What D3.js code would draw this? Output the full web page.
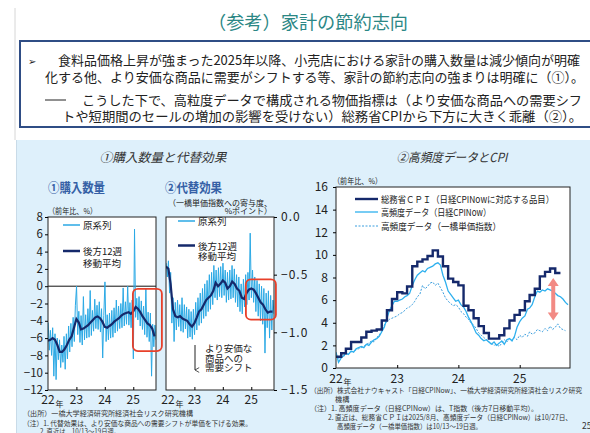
<!DOCTYPE html>
<html><head><meta charset="utf-8">
<script src="https://cdn.jsdelivr.net/npm/d3@7"></script>
<style>
body{margin:0;background:#fff;}
svg{display:block;}
text{font-family:"Noto Sans CJK JP","Noto Sans",sans-serif;}
</style>
</head><body>
<svg id="c" width="590" height="433"></svg>
<script>
// ---------------- DATA ----------------
const yearTicks = [2022, 2023, 2024, 2025];
const yearLabels = ["22", "23", "24", "25"];

// ① 購入数量（前年比、%）: raw series, roughly every two weeks from 2022-01-03
const qtyRaw = [-4.2,-7.4,-5.1,-8.0,-4.8,-10.4,-5.5,-10.8,-6.0,-8.5,-6.2,-9.4,-6.8,-8.8,-5.8,-9.6,-5.5,-8.4,-4.6,-7.6,
  -4.3,-7.0,-3.6,-6.4,-2.2,0.0,-5.6,-2.9,-6.5,-3.4,-6.8,-1.2,-6.2,-3.3,-6.0,-2.6,-5.9,-0.5,-5.7,-2.8,
  -5.2,-1.5,-4.9,-2.2,-5.0,-1.8,-5.3,-2.6,-8.3,-3.4,0.5,-6.4,-3.3,-6.2,-3.1,-6.0,-2.8,-5.9,-2.5,-5.4,
  -1.6,-5.2,-2.3,-4.9,-2.0,-4.8,-0.2,-4.6,-1.8,-4.4,0.0,-4.5,-1.9,-4.8,-1.6,-8.4,6.6,-3.6,-1.4,-3.9,
  -1.2,-4.6,-1.7,-5.0,-2.3,-5.6,-0.3,-5.9,-3.0,-6.4,-3.1,-10.4,-4.4,-7.0,-4.5,-6.2];
// ① 後方12週移動平均 (monthly readings, Jan-2022 .. Oct-2025)
const qtyMA = [-6.3,-6.2,-6.0,-6.2,-6.8,-7.6,-7.6,-7.3,-6.8,-6.2,-5.8,-4.8,
  -3.8,-4.2,-5.0,-4.9,-4.7,-4.5,-4.2,-3.9,-3.6,-3.5,-3.7,-4.1,
  -4.7,-4.8,-4.6,-4.4,-4.1,-3.9,-3.7,-3.4,-3.2,-3.1,-3.0,-3.2,
  -2.9,-2.4,-2.6,-3.0,-3.5,-3.9,-4.3,-4.5,-4.9,-5.8];

// ② 代替効果（一橋単価指数への寄与度、%ポイント）
const subRaw = [-0.40,-0.52,-0.38,-0.66,-0.48,-0.92,-0.70,-1.08,-0.74,-0.98,-0.72,-0.95,-0.76,-0.99,-0.70,-1.00,-0.76,-0.97,-0.78,-1.05,
  -0.80,-1.04,-0.82,-1.06,-0.80,-1.02,-0.74,-0.98,-0.70,-0.94,-0.66,-0.92,-0.62,-0.88,-0.58,-0.86,-0.55,-0.82,-0.50,-0.80,
  -0.48,-0.76,-0.42,-0.70,-0.46,-0.72,-0.44,-0.69,-0.43,-0.70,-0.40,-0.68,-0.46,-0.74,-0.48,-0.72,-0.46,-0.71,-0.42,-0.70,
  -0.45,-0.74,-0.50,-0.78,-0.52,-0.82,-0.58,-0.84,-0.54,-0.78,-0.50,-0.76,-0.48,-0.72,-0.14,-0.70,-0.46,-0.74,-0.52,-0.82,
  -0.55,-0.86,-0.58,-0.90,-0.60,-0.93,-0.62,-1.18,-0.66,-0.96,-0.64,-1.05,-0.68,-0.98,-0.72,-0.84];
const subMA = [-0.43,-0.45,-0.58,-0.80,-0.86,-0.87,-0.86,-0.88,-0.89,-0.90,-0.93,-0.95,
  -0.92,-0.87,-0.82,-0.80,-0.76,-0.72,-0.70,-0.68,-0.64,-0.57,-0.60,-0.58,
  -0.55,-0.57,-0.62,-0.60,-0.56,-0.58,-0.62,-0.64,-0.70,-0.71,-0.66,-0.63,
  -0.62,-0.63,-0.66,-0.70,-0.74,-0.76,-0.80,-0.83,-0.82,-0.82];

// ③ 高頻度データとCPI（前年比、%）
// 総務省CPI（日経CPINowに対応する品目）monthly, Jan-2022 .. Aug-2025
const cpiMonthly = [1.0,1.3,1.7,2.3,2.3,2.7,3.2,3.3,3.4,4.2,5.1,6.1,
  6.7,6.6,7.2,9.0,9.4,9.6,9.9,10.4,9.85,9.0,7.9,7.6,
  7.3,5.5,5.1,4.4,3.7,3.1,2.6,2.6,2.9,3.5,4.2,4.7,
  5.1,5.9,6.45,7.0,8.1,8.5,8.8,8.4];
// 高頻度データ（日経CPINow）, 1st & 16th of each month
const nowcast = [1.4,0.5,0.9,1.1,1.3,1.2,1.5,1.4,1.7,1.8,1.9,1.8,2.1,2.0,2.3,2.5,2.6,2.8,3.2,3.6,4.4,5.1,5.5,5.9,
  5.9,6.0,6.1,6.3,6.4,6.6,7.3,7.8,8.2,8.4,8.6,8.5,8.8,8.9,9.0,9.2,9.3,9.1,8.2,7.6,6.8,6.5,6.2,5.9,
  6.0,5.6,5.4,5.0,4.5,4.1,3.6,3.1,2.9,2.6,2.4,2.5,2.3,2.1,2.3,2.0,2.2,2.4,2.1,2.5,2.6,2.4,2.8,3.6,
  4.1,4.4,4.6,5.2,5.3,5.6,6.3,6.8,6.7,6.9,6.8,7.0,6.9,6.8,6.6,6.4,6.3,6.1,5.8,5.6];
// 高頻度データ（一橋単価指数）
const hitotsubashi = [1.0,0.8,1.1,1.0,1.3,1.2,1.4,1.5,1.6,1.7,1.8,1.9,2.1,2.2,2.4,2.3,2.7,2.9,3.3,3.8,4.1,4.3,4.4,4.5,
  4.6,4.8,4.9,5.1,5.3,5.4,5.6,5.9,6.3,6.5,7.3,7.0,7.2,7.5,7.6,7.3,7.5,7.1,6.7,6.2,5.9,5.7,5.5,5.6,
  5.4,5.0,4.8,4.5,4.3,4.0,3.8,3.5,3.1,2.9,2.7,2.5,2.3,2.2,2.0,2.1,1.9,2.2,2.5,2.3,2.6,2.4,2.7,2.5,
  2.9,2.7,3.0,2.8,3.2,3.0,3.1,3.4,3.3,3.2,3.5,3.3,3.7,3.4,3.6,3.9,3.5,3.4,3.3];

// ---------------- HELPERS ----------------
const rawDate = i => d3.timeDay.offset(new Date(2022,0,3), Math.round(i*14.6));
const monthDate = k => new Date(2022, k, 1);
const halfDate = j => new Date(2022, Math.floor(j/2), j%2 ? 16 : 1);

const svg = d3.select("#c");
function T(x, y, s, o = {}) {
  const t = svg.append("text").attr("x", x).attr("y", y).text(s)
    .attr("font-size", o.fs || 10).attr("fill", o.fill || "#222");
  if (o.anchor) t.attr("text-anchor", o.anchor);
  if (o.len) t.attr("textLength", o.len).attr("lengthAdjust", "spacingAndGlyphs");
  if (o.weight) t.attr("font-weight", o.weight);
  if (o.style) t.attr("font-style", o.style);
  if (o.ls) t.attr("letter-spacing", o.ls);
  return t;
}
// multi-line text as one element
function ML(x, y, lines, dy, o = {}) {
  const t = svg.append("text").attr("x", x).attr("y", y)
    .attr("font-size", o.fs || 10).attr("fill", o.fill || "#222");
  lines.forEach((s, i) => t.append("tspan").attr("x", x).attr("dy", i ? dy : 0).text(s));
  return t;
}

// ---------------- BACKGROUND / HEADER ----------------
svg.append("rect").attr("width",590).attr("height",433).attr("fill","#fff");
svg.append("line").attr("x1",15).attr("x2",15).attr("y1",8).attr("y2",140).attr("stroke","#d6d6d6");
svg.append("rect").attr("x",16).attr("y",140).attr("width",574).attr("height",293).attr("fill","#def0fb");
svg.append("line").attr("x1",16.5).attr("x2",16.5).attr("y1",140).attr("y2",433).attr("stroke","#c9dbe8");

T(308, 29, "（参考）家計の節約志向", {fs:18, fill:"#2b8785", anchor:"middle", len:200});
svg.append("rect").attr("x",20).attr("y",41).attr("width",580).attr("height",86)
  .attr("fill","#fff").attr("stroke","#2f4d85").attr("stroke-width",2);
T(28, 65, "➢", {fs:10, fill:"#222"});
T(58, 65, "食料品価格上昇が強まった2025年以降、小売店における家計の購入数量は減少傾向が明確", {fs:13, len:522});
T(45, 82, "化する他、より安価な商品に需要がシフトする等、家計の節約志向の強まりは明確に（①）。", {fs:13, len:539});
svg.append("line").attr("x1",45).attr("x2",66).attr("y1",100).attr("y2",100).attr("stroke","#222").attr("stroke-width",1);
T(82, 105, "こうした下で、高粒度データで構成される物価指標は（より安価な商品への需要シフ", {fs:13, len:500});
T(62, 121, "トや短期間のセールの増加の影響を受けない）総務省CPIから下方に大きく乖離（②）。", {fs:13, len:520});

// section titles
T(163, 162, "①購入数量と代替効果", {fs:12.5, anchor:"middle", style:"italic", fill:"#333", len:127});
T(452, 162, "②高頻度データとCPI", {fs:12.5, anchor:"middle", style:"italic", fill:"#333", len:111});
T(48, 192, "①購入数量", {fs:13, weight:"bold", fill:"#3560a6", len:57});
T(165, 192, "②代替効果", {fs:13, weight:"bold", fill:"#3560a6", len:57});
T(48, 214, "（前年比、%）", {fs:8, len:49});
ML(272, 206, ["（一橋単価指数への寄与度、", "%ポイント）"], 8, {fs:8}).attr("text-anchor","end");

// ---------------- PANEL ①: 購入数量 ----------------
const xDomL = [new Date(2022,0,1), new Date(2025,9,20)];
const xL = d3.scaleTime().domain(xDomL).range([48,156]);
const yL = d3.scaleLinear().domain([-12,8]).range([390,217]);
svg.append("rect").attr("x",48).attr("y",217).attr("width",108).attr("height",173).attr("fill","#fff");
svg.append("clipPath").attr("id","clipL").append("rect").attr("x",48).attr("y",217).attr("width",108).attr("height",173);
const gL = svg.append("g").attr("clip-path","url(#clipL)");
gL.append("line").attr("x1",48).attr("x2",156).attr("y1",yL(0)).attr("y2",yL(0)).attr("stroke","#111").attr("stroke-width",1);
gL.append("path").datum(qtyRaw).attr("fill","none").attr("stroke","#2ba9e5").attr("stroke-width",1)
  .attr("d", d3.line().x((d,i)=>xL(rawDate(i))).y(d=>yL(d)));
gL.append("path").datum(qtyMA).attr("fill","none").attr("stroke","#15296b").attr("stroke-width",2.2)
  .attr("d", d3.line().x((d,i)=>xL(monthDate(i))).y(d=>yL(d)));
svg.append("rect").attr("x",48).attr("y",217).attr("width",108).attr("height",173).attr("fill","none").attr("stroke","#222").attr("stroke-width",1);
const axL = svg.append("g").attr("transform","translate(48,0)")
  .call(d3.axisLeft(yL).tickValues(d3.range(-12,9,2)).tickSize(3).tickPadding(2).tickFormat(d3.format("d")));
axL.select(".domain").remove();
axL.selectAll("text").attr("font-size",11.5).attr("fill","#222").attr("font-family","'Liberation Sans',sans-serif");
const bxL = svg.append("g").attr("transform","translate(0,390)")
  .call(d3.axisBottom(xL).tickValues(yearTicks.slice(1).map(y=>new Date(y,0,1))).tickSizeInner(-3).tickSizeOuter(0).tickFormat(""));
bxL.select(".domain").remove();
yearTicks.forEach((y,i)=>{ T(xL(new Date(y,0,1)), 404, yearLabels[i], {fs:12, anchor:"middle", fill:"#222"}); });
T(xL(new Date(2022,0,1))+7.5, 406.5, "年", {fs:8});
// legend
svg.append("line").attr("x1",63).attr("x2",80).attr("y1",225).attr("y2",225).attr("stroke","#2ba9e5").attr("stroke-width",1.5);
T(83, 229, "原系列", {fs:9.5});
svg.append("line").attr("x1",63).attr("x2",80).attr("y1",251).attr("y2",251).attr("stroke","#15296b").attr("stroke-width",2.5);
ML(83, 255, ["後方12週", "移動平均"], 11.5, {fs:9.5});
svg.append("rect").attr("x",xL(new Date(2024,11,27))).attr("y",yL(-0.3))
  .attr("width",29).attr("height",yL(-7.5)-yL(-0.3)).attr("rx",5)
  .attr("fill","none").attr("stroke","#e8402a").attr("stroke-width",1.8);

// ---------------- PANEL ②: 代替効果 ----------------
const xM = d3.scaleTime().domain(xDomL).range([166,274]);
const yM = d3.scaleLinear().domain([-1.5,0]).range([390,217]);
svg.append("rect").attr("x",166).attr("y",217).attr("width",108).attr("height",173).attr("fill","#fff");
svg.append("clipPath").attr("id","clipM").append("rect").attr("x",166).attr("y",217).attr("width",108).attr("height",173);
const gM = svg.append("g").attr("clip-path","url(#clipM)");
gM.append("path").datum(subRaw).attr("fill","none").attr("stroke","#2ba9e5").attr("stroke-width",1)
  .attr("d", d3.line().x((d,i)=>xM(rawDate(i))).y(d=>yM(d)));
gM.append("path").datum(subMA).attr("fill","none").attr("stroke","#15296b").attr("stroke-width",2.2)
  .attr("d", d3.line().x((d,i)=>xM(monthDate(i))).y(d=>yM(d)));
svg.append("rect").attr("x",166).attr("y",217).attr("width",108).attr("height",173).attr("fill","none").attr("stroke","#222").attr("stroke-width",1);
const axM = svg.append("g").attr("transform","translate(274,0)")
  .call(d3.axisRight(yM).tickValues([0,-0.5,-1,-1.5]).tickSize(3).tickPadding(4).tickFormat(d3.format(".1f")));
axM.select(".domain").remove();
axM.selectAll("text").attr("font-size",12).attr("fill","#222").attr("letter-spacing",1).attr("font-family","'Liberation Mono',monospace");
const bxM = svg.append("g").attr("transform","translate(0,390)")
  .call(d3.axisBottom(xM).tickValues(yearTicks.slice(1).map(y=>new Date(y,0,1))).tickSizeInner(-3).tickSizeOuter(0).tickFormat(""));
bxM.select(".domain").remove();
yearTicks.forEach((y,i)=>{ T(xM(new Date(y,0,1))+(i===0?2:0), 404, yearLabels[i], {fs:12, anchor:"middle"}); });
T(xM(new Date(2022,0,1))+9.5, 406.5, "年", {fs:8});
svg.append("line").attr("x1",178).attr("x2",195).attr("y1",221).attr("y2",221).attr("stroke","#2ba9e5").attr("stroke-width",1.5);
T(198, 225, "原系列", {fs:9.5});
svg.append("line").attr("x1",178).attr("x2",195).attr("y1",245.5).attr("y2",245.5).attr("stroke","#15296b").attr("stroke-width",2.5);
ML(198, 249.5, ["後方12週", "移動平均"], 10, {fs:9.5});
svg.append("defs").append("marker").attr("id","ah").attr("viewBox","0 0 10 10").attr("refX",5).attr("refY",9)
  .attr("markerWidth",6).attr("markerHeight",6).attr("orient","auto-start-reverse")
  .append("path").attr("d","M1,2 L5,9 L9,2").attr("fill","none").attr("stroke","#222").attr("stroke-width",1.3);
svg.append("line").attr("x1",195).attr("x2",195).attr("y1",345).attr("y2",370).attr("stroke","#222").attr("stroke-width",1)
  .attr("marker-end","url(#ah)");
ML(205, 352, ["より安価な", "商品への", "需要シフト"], 9.5, {fs:9.5});
svg.append("rect").attr("x",xM(new Date(2024,9,24))).attr("y",yM(-0.54))
  .attr("width",30).attr("height",yM(-0.89)-yM(-0.54)).attr("rx",5)
  .attr("fill","none").attr("stroke","#e8402a").attr("stroke-width",1.8);

// notes left
T(23, 416, "（出所）一橋大学経済研究所経済社会リスク研究機構", {fs:7.2, len:170, fill:"#333"});
T(23, 425.5, "（注）1. 代替効果は、より安価な商品への需要シフトが単価を下げる効果。", {fs:7.2, len:229, fill:"#333"});
T(40, 433.5, "2. 直近は、10/13～19日週。", {fs:7.2, len:80, fill:"#333"});

// ---------------- PANEL ③: 高頻度データとCPI ----------------
const xR = d3.scaleTime().domain([new Date(2022,0,1), new Date(2025,9,28)]).range([336,570]);
const yR = d3.scaleLinear().domain([0,16]).range([368,187]);
svg.append("rect").attr("x",336).attr("y",187).attr("width",234).attr("height",181).attr("fill","#fff");
svg.append("clipPath").attr("id","clipR").append("rect").attr("x",336).attr("y",187).attr("width",234).attr("height",181);
const gR = svg.append("g").attr("clip-path","url(#clipR)");
gR.append("path").datum(hitotsubashi).attr("fill","none").attr("stroke","#3a9ede").attr("stroke-width",1)
  .attr("stroke-dasharray","2,1.5")
  .attr("d", d3.line().x((d,i)=>xR(halfDate(i))).y(d=>yR(d)));
gR.append("path").datum(nowcast).attr("fill","none").attr("stroke","#2eb0ee").attr("stroke-width",1.3)
  .attr("d", d3.line().x((d,i)=>xR(halfDate(i))).y(d=>yR(d)));
const cpiPts = cpiMonthly.map((v,k)=>[monthDate(k), v]).concat([[monthDate(cpiMonthly.length), cpiMonthly[cpiMonthly.length-1]]]);
gR.append("path").datum(cpiPts).attr("fill","none").attr("stroke","#15296b").attr("stroke-width",2.4)
  .attr("d", d3.line().curve(d3.curveStepAfter).x(d=>xR(d[0])).y(d=>yR(d[1])));
svg.append("rect").attr("x",336).attr("y",187).attr("width",234).attr("height",181).attr("fill","none").attr("stroke","#222").attr("stroke-width",1);
const axR = svg.append("g").attr("transform","translate(336,0)")
  .call(d3.axisLeft(yR).tickValues(d3.range(0,17,2)).tickSize(3).tickPadding(5).tickFormat(d3.format("d")));
axR.select(".domain").remove();
axR.selectAll("text").attr("font-size",12).attr("fill","#222").attr("font-family","'Liberation Sans',sans-serif");
const bxR = svg.append("g").attr("transform","translate(0,368)")
  .call(d3.axisBottom(xR).tickValues(yearTicks.slice(1).map(y=>new Date(y,0,1))).tickSizeInner(-3).tickSizeOuter(0).tickFormat(""));
bxR.select(".domain").remove();
yearTicks.forEach((y,i)=>{ T(xR(new Date(y,0,1)), 382.5, yearLabels[i], {fs:12, anchor:"middle"}); });
T(xR(new Date(2022,0,1))+7.5, 384.5, "年", {fs:8});
T(333, 184, "（前年比、%）", {fs:8, len:49});
svg.append("line").attr("x1",355).attr("x2",378).attr("y1",199).attr("y2",199).attr("stroke","#15296b").attr("stroke-width",2.4);
T(381, 202.5, "総務省ＣＰＩ（日経CPINowに対応する品目）", {fs:9.5, len:173});
svg.append("line").attr("x1",355).attr("x2",378).attr("y1",212).attr("y2",212).attr("stroke","#2eb0ee").attr("stroke-width",1.3);
T(381, 215.5, "高頻度データ（日経CPINow）", {fs:9.5, len:110});
svg.append("line").attr("x1",355).attr("x2",378).attr("y1",226).attr("y2",226).attr("stroke","#3a9ede").attr("stroke-width",1).attr("stroke-dasharray","2,1.5");
T(381, 229.5, "高頻度データ（一橋単価指数）", {fs:9.5, len:120});
const ax = xR(new Date(2025,6,20)), aTop = yR(7.95), aBot = yR(4.2);
const hw = 5.5, hl = 8, sw = 2;
svg.append("path").attr("fill","#f28a84")
  .attr("d", `M${ax},${aTop} L${ax+hw},${aTop+hl} L${ax+sw},${aTop+hl} L${ax+sw},${aBot-hl} L${ax+hw},${aBot-hl} L${ax},${aBot} L${ax-hw},${aBot-hl} L${ax-sw},${aBot-hl} L${ax-sw},${aTop+hl} L${ax-hw},${aTop+hl} Z`);

// notes right
T(310, 393, "（出所）株式会社ナウキャスト「日経CPINow」、一橋大学経済研究所経済社会リスク研究", {fs:7.2, len:272, fill:"#333"});
T(335, 401.5, "機構", {fs:7.2, fill:"#333"});
T(310, 411, "（注）1. 高頻度データ（日経CPINow）は、T指数（後方7日移動平均）。", {fs:7.2, len:228, fill:"#333"});
T(328, 420, "2. 直近は、総務省ＣＰＩは2025/8月、高頻度データ（日経CPINow）は10/27日、", {fs:7.2, len:244, fill:"#333"});
T(337, 429, "高頻度データ（一橋単価指数）は10/13～19日週。", {fs:7.2, len:145, fill:"#333"});
T(582, 429, "25", {fs:8.5, fill:"#333"});
</script>
</body></html>
